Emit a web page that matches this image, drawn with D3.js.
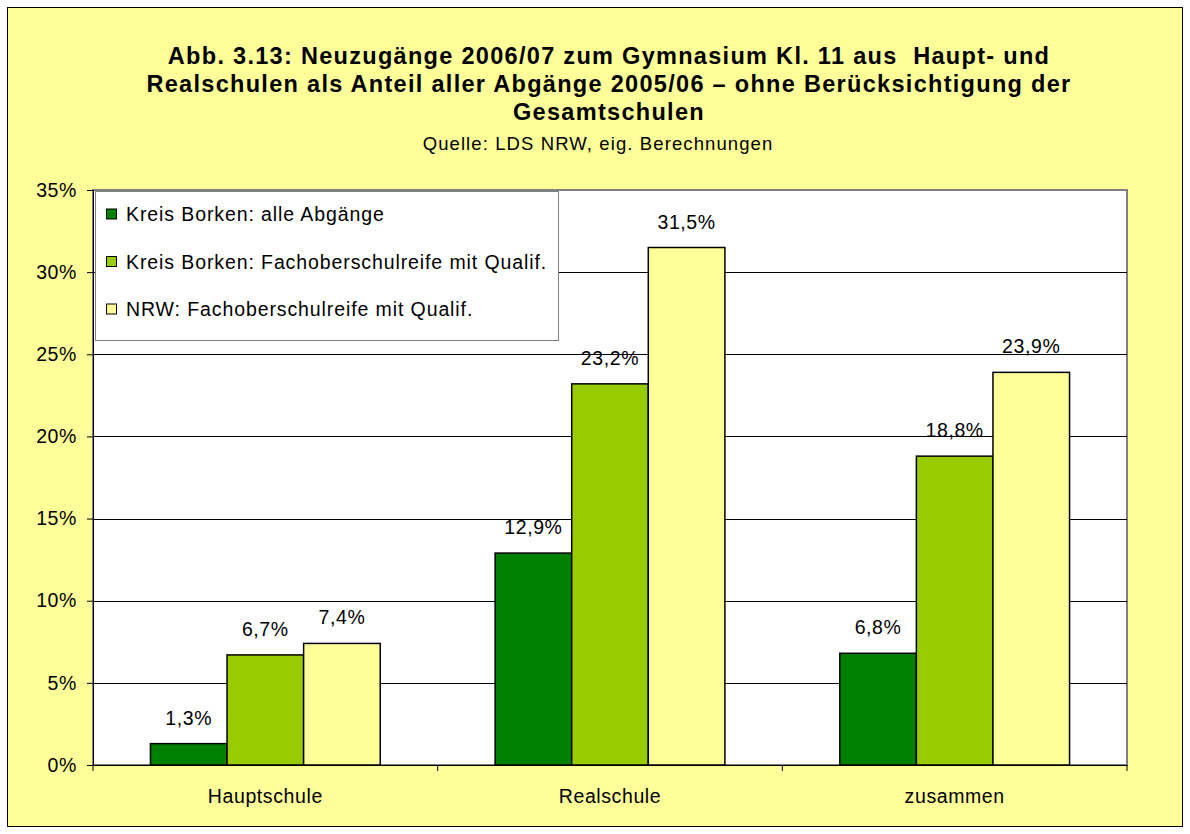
<!DOCTYPE html>
<html>
<head>
<meta charset="utf-8">
<script src="https://cdn.jsdelivr.net/npm/d3@7"></script>
<style>
  body { margin: 0; background: #fff; }
  text { font-family: "Liberation Sans", Arial, sans-serif; fill: #000; }
</style>
</head>
<body>
<div id="chart"></div>
<script>
const categories = ['Hauptschule', 'Realschule', 'zusammen'];
const seriesNames = [
  'Kreis Borken: alle Abgänge',
  'Kreis Borken: Fachoberschulreife mit Qualif.',
  'NRW: Fachoberschulreife mit Qualif.'
];
const kreisAlle = [1.3, 12.9, 6.8];
const kreisFOR = [6.7, 23.2, 18.8];
const nrwFOR = [7.4, 31.5, 23.9];
const yTicks = [0, 5, 10, 15, 20, 25, 30, 35];
const titleLines = [
  'Abb. 3.13: Neuzugänge 2006/07 zum Gymnasium Kl. 11 aus  Haupt- und',
  'Realschulen als Anteil aller Abgänge 2005/06 – ohne Berücksichtigung der',
  'Gesamtschulen'
];
const subtitle = 'Quelle: LDS NRW, eig. Berechnungen';

const colors = ['#008000', '#99cc00', '#ffff99'];
const series = [kreisAlle, kreisFOR, nrwFOR];

const width = 1190, height = 834;
const plot = { left: 93, right: 1127, top: 190, bottom: 765 };
const labelSize = '19.5px';
const labelSpacing = '0.6px';

const svg = d3.select('#chart').append('svg')
  .attr('width', width)
  .attr('height', height);

// chart area background
svg.append('rect')
  .attr('x', 7.5).attr('y', 7.5)
  .attr('width', 1175).attr('height', 819)
  .attr('fill', '#ffff99')
  .attr('stroke', '#000')
  .attr('stroke-width', 1);

// title
svg.append('g').selectAll('text')
  .data(titleLines)
  .enter()
  .append('text')
  .attr('x', 609)
  .attr('y', (d, i) => 64 + i * 28)
  .attr('text-anchor', 'middle')
  .style('font-size', '23.5px')
  .style('font-weight', 'bold')
  .style('letter-spacing', '1.3px')
  .style('white-space', 'pre')
  .text(d => d);

svg.append('text')
  .attr('x', 598)
  .attr('y', 150)
  .attr('text-anchor', 'middle')
  .style('font-size', '18.5px')
  .style('letter-spacing', '1.1px')
  .text(subtitle);

const x0 = d3.scaleBand()
  .domain(categories)
  .range([plot.left, plot.right])
  .paddingInner(0)
  .paddingOuter(0);

const barW = x0.bandwidth() / 4.5;
const x1 = d3.scaleBand()
  .domain(d3.range(series.length))
  .range([0, barW * 3]);

const y = d3.scaleLinear()
  .domain([0, 35])
  .range([plot.bottom, plot.top]);

// plot area
svg.append('rect')
  .attr('x', plot.left).attr('y', plot.top)
  .attr('width', plot.right - plot.left)
  .attr('height', plot.bottom - plot.top)
  .attr('fill', '#fff')
  .attr('stroke', '#808080')
  .attr('stroke-width', 2);

// gridlines
svg.append('g')
  .selectAll('line')
  .data(yTicks.filter(t => t > 0 && t < 35))
  .enter()
  .append('line')
  .attr('x1', plot.left)
  .attr('x2', plot.right)
  .attr('y1', d => Math.round(y(d)) + 0.5)
  .attr('y2', d => Math.round(y(d)) + 0.5)
  .attr('stroke', '#000')
  .attr('stroke-width', 1);

// bars
const groups = svg.append('g')
  .selectAll('g')
  .data(categories)
  .enter()
  .append('g')
  .attr('transform', d => 'translate(' + (x0(d) + barW * 0.75) + ',0)');

groups.selectAll('rect')
  .data((d, ci) => series.map((s, si) => ({ si: si, v: s[ci] })))
  .enter()
  .append('rect')
  .attr('x', d => x1(d.si))
  .attr('y', d => y(d.v))
  .attr('width', x1.bandwidth())
  .attr('height', d => y(0) - y(d.v))
  .attr('fill', d => colors[d.si])
  .attr('stroke', '#000')
  .attr('stroke-width', 1.5);

groups.selectAll('text')
  .data((d, ci) => series.map((s, si) => ({ si: si, v: s[ci] })))
  .enter()
  .append('text')
  .attr('x', d => x1(d.si) + x1.bandwidth() / 2)
  .attr('y', d => y(d.v) - 19)
  .attr('text-anchor', 'middle')
  .style('font-size', labelSize)
  .style('letter-spacing', labelSpacing)
  .text(d => d3.format('.1f')(d.v).replace('.', ',') + '%');

// y axis
const yAxis = svg.append('g')
  .attr('transform', 'translate(' + plot.left + ',0)')
  .call(d3.axisLeft(y).tickValues(yTicks).tickSize(6).tickPadding(10).tickFormat(d => d + '%'));
yAxis.select('.domain').attr('stroke', '#000');
yAxis.selectAll('text')
  .style('font-size', labelSize)
  .style('letter-spacing', labelSpacing)
  .attr('fill', '#000');

// x axis
const xAxis = svg.append('g')
  .attr('transform', 'translate(0,' + plot.bottom + ')')
  .call(d3.axisBottom(x0).tickSize(0).tickPadding(24));
xAxis.select('.domain').attr('stroke', '#000');
xAxis.selectAll('text')
  .style('font-size', labelSize)
  .style('letter-spacing', labelSpacing)
  .attr('fill', '#000');
svg.append('g')
  .selectAll('line')
  .data(d3.range(categories.length + 1))
  .enter()
  .append('line')
  .attr('x1', i => plot.left + i * x0.step())
  .attr('x2', i => plot.left + i * x0.step())
  .attr('y1', plot.bottom)
  .attr('y2', plot.bottom + 6)
  .attr('stroke', '#000');

// legend
const legend = svg.append('g');
legend.append('rect')
  .attr('x', 95.5).attr('y', 191.5)
  .attr('width', 463).attr('height', 149)
  .attr('fill', '#fff')
  .attr('stroke', '#808080')
  .attr('stroke-width', 1);
const items = legend.selectAll('g.item')
  .data(seriesNames)
  .enter()
  .append('g')
  .attr('class', 'item')
  .attr('transform', (d, i) => 'translate(0,' + (214 + i * 47.5) + ')');
items.append('rect')
  .attr('x', 106.5).attr('y', -5)
  .attr('width', 10).attr('height', 10)
  .attr('fill', (d, i) => colors[i])
  .attr('stroke', '#000')
  .attr('stroke-width', 1);
items.append('text')
  .attr('x', 126)
  .attr('y', 7)
  .style('font-size', labelSize)
  .style('letter-spacing', '0.9px')
  .text(d => d);
</script>
</body>
</html>
